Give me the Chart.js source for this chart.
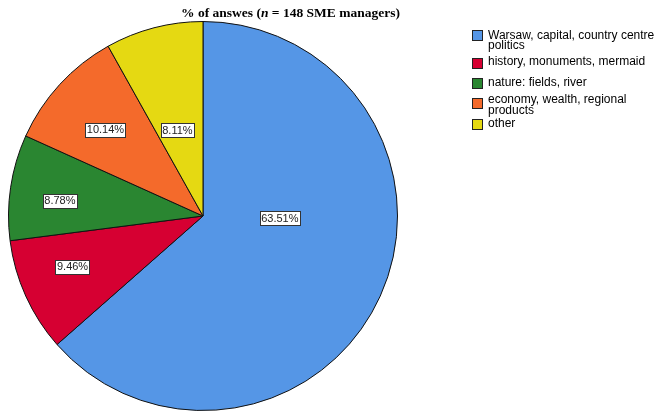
<!DOCTYPE html>
<html>
<head>
<meta charset="utf-8">
<script src="https://cdn.jsdelivr.net/npm/chart.js@4/dist/chart.umd.min.js"></script>
<style>
  html, body { margin: 0; padding: 0; background: #ffffff; }
  #wrap { position: relative; width: 656px; height: 413px; }
</style>
</head>
<body>
<div id="wrap"><canvas id="c" width="656" height="413"></canvas></div>
<script>
// ---- data ----
const categories = [
  ["Warsaw, capital, country centre", "politics"],
  ["history, monuments, mermaid"],
  ["nature: fields, river"],
  ["economy, wealth, regional", "products"],
  ["other"]
];
const percentages = [63.51, 9.46, 8.78, 10.14, 8.11];
const sliceColors = ["#5596E6", "#D60032", "#2A8631", "#F46A2B", "#E5D912"];

// label placement: [fraction of radius, angle shift in degrees]
const labelPlacement = [[0.395, -22.8], [0.72, 3], [0.74, -2.5], [0.67, -1], [0.46, -2]];

const titlePlugin = {
  id: 'customTitle',
  afterDraw(chart) {
    const ctx = chart.ctx;
    ctx.save();
    ctx.fillStyle = '#000';
    ctx.textBaseline = 'alphabetic';
    const fam = '"Liberation Serif", "Times New Roman", serif';
    const parts = [
      { t: '% of answes (', f: 'bold 13.5px ' + fam },
      { t: 'n', f: 'italic bold 13.5px ' + fam },
      { t: ' = 148 SME managers)', f: 'bold 13.5px ' + fam }
    ];
    let total = 0;
    parts.forEach(p => { ctx.font = p.f; p.w = ctx.measureText(p.t).width; total += p.w; });
    let x = 290.5 - total / 2;
    parts.forEach(p => { ctx.font = p.f; ctx.fillText(p.t, x, 17); x += p.w; });
    ctx.restore();
  }
};

const legendPlugin = {
  id: 'customLegend',
  afterDraw(chart) {
    const ctx = chart.ctx;
    const ds = chart.data.datasets[0];
    ctx.save();
    ctx.font = '12px "Liberation Sans", Arial, sans-serif';
    ctx.textBaseline = 'middle';
    const boxY = [35, 62.5, 83, 102.5, 124];
    const textY = [35.5, 62, 83, 100, 124];
    chart.data.labels.forEach((lab, i) => {
      const lines = Array.isArray(lab) ? lab : [lab];
      ctx.fillStyle = ds.backgroundColor[i];
      const by = Math.round(boxY[i] - 5) + 0.5;
      ctx.fillRect(472.5, by, 10, 10);
      ctx.strokeStyle = '#222';
      ctx.lineWidth = 1;
      ctx.strokeRect(472.5, by, 10, 10);
      ctx.fillStyle = '#000';
      lines.forEach((ln, k) => ctx.fillText(ln, 488, textY[i] + k * 10.5));
    });
    ctx.restore();
  }
};

const valueLabelPlugin = {
  id: 'valueLabels',
  afterDatasetsDraw(chart) {
    const ctx = chart.ctx;
    const meta = chart.getDatasetMeta(0);
    const data = chart.data.datasets[0].data;
    ctx.save();
    ctx.font = '11px "Liberation Sans", Arial, sans-serif';
    ctx.textAlign = 'center';
    ctx.textBaseline = 'middle';
    meta.data.forEach((arc, i) => {
      const p = arc.getProps(['x', 'y', 'startAngle', 'endAngle', 'outerRadius'], true);
      const [frac, shift] = labelPlacement[i];
      const mid = (p.startAngle + p.endAngle) / 2 + shift * Math.PI / 180;
      const r = p.outerRadius * frac;
      const cx = p.x + Math.cos(mid) * r;
      const cy = p.y + Math.sin(mid) * r;
      const txt = data[i].toFixed(2) + '%';
      const w = ctx.measureText(txt).width + 3;
      const h = 14;
      const bx = Math.round(cx - w / 2) + 0.5, by = Math.round(cy - h / 2) + 0.5;
      ctx.fillStyle = '#fff';
      ctx.fillRect(bx, by, Math.round(w), h);
      ctx.strokeStyle = '#333';
      ctx.lineWidth = 1;
      ctx.strokeRect(bx, by, Math.round(w), h);
      ctx.fillStyle = '#222';
      ctx.fillText(txt, cx, cy + 0.5);
    });
    ctx.restore();
  }
};

new Chart(document.getElementById('c'), {
  type: 'pie',
  data: {
    labels: categories,
    datasets: [{
      data: percentages,
      backgroundColor: sliceColors,
      borderColor: '#111',
      borderWidth: 1
    }]
  },
  options: {
    responsive: false,
    animation: false,
    devicePixelRatio: 1,
    layout: { padding: { left: 8, right: 258, top: 21, bottom: 2 } },
    plugins: {
      legend: { display: false },
      title: { display: false },
      tooltip: { enabled: false }
    }
  },
  plugins: [titlePlugin, legendPlugin, valueLabelPlugin]
});
</script>
</body>
</html>
